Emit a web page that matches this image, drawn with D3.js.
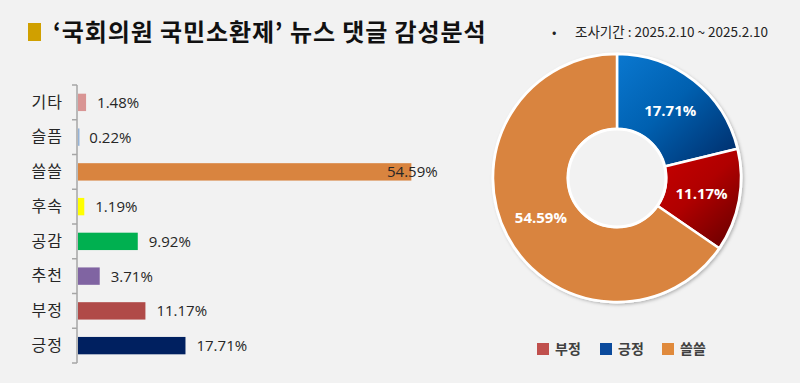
<!DOCTYPE html>
<html><head><meta charset="utf-8">
<script src="https://cdn.jsdelivr.net/npm/d3@7"></script>
<style>
html,body{margin:0;padding:0;background:#f2f2f2;}
svg{display:block;font-family:"Noto Sans CJK KR","Noto Sans",sans-serif;}
</style></head>
<body>
<svg id="c" width="800" height="383"></svg>
<script>
const titleText = "‘국회의원 국민소환제’ 뉴스 댓글 감성분석";
const periodText = "조사기간 : 2025.2.10 ~ 2025.2.10";
const barCategories = ["기타","슬픔","쓸쓸","후속","공감","추천","부정","긍정"];
const barValues = [1.48,0.22,54.59,1.19,9.92,3.71,11.17,17.71];
const barColors = ["#d99594","#95b3d7","#d9843f","#ffff00","#00b050","#8064a2","#b04a48","#002060"];
const pieCategories = ["긍정","부정","쓸쓸"];
const pieValues = [17.71,11.17,54.59];
const legendOrder = ["부정","긍정","쓸쓸"];
const legendColors = {"부정":"#c0504d","긍정":"#0b4a9c","쓸쓸":"#e08a3c"};

const svg = d3.select("#c");
svg.append("rect").attr("width",800).attr("height",383).attr("fill","#f2f2f2");

// Title
svg.append("rect").attr("x",28).attr("y",23).attr("width",13).attr("height",18).attr("fill","#d0a000");
svg.append("text").attr("x",53).attr("y",41).attr("font-size",24).attr("font-weight",700)
  .attr("letter-spacing",0.9).attr("fill","#111").text(titleText);
svg.append("text").attr("x",552).attr("y",37).attr("font-size",13).attr("fill","#222").text("•");
svg.append("text").attr("x",575).attr("y",37).attr("font-size",13.5).attr("fill","#222").text(periodText);

// Bar chart
const x = d3.scaleLinear().domain([0,60]).range([77,77+367.5]);
const y = d3.scaleBand().domain(barCategories).range([85,363]).paddingInner(0.5).paddingOuter(0.25);
const bandStep = (363-85)/barCategories.length;
const g = svg.append("g");
const ax = d3.axisLeft(y).tickSize(0).tickPadding(14);
const axG = g.append("g").attr("transform","translate(77,0)").call(ax);
axG.select(".domain").remove();
axG.selectAll("text").attr("font-size",16).attr("letter-spacing",1).attr("fill","#262626")
  .attr("font-family","'Noto Sans CJK KR',sans-serif");
// axis line and boundary ticks
g.append("line").attr("x1",77).attr("x2",77).attr("y1",85).attr("y2",363).attr("stroke","#a6a6a6").attr("stroke-width",1.5);
const boundaries = d3.range(barCategories.length+1).map(i=>85+i*bandStep);
g.selectAll(".tk").data(boundaries).enter().append("line")
  .attr("x1",72).attr("x2",77).attr("y1",d=>d).attr("y2",d=>d).attr("stroke","#a6a6a6").attr("stroke-width",1.5);
g.selectAll(".bar").data(barCategories).enter().append("rect")
  .attr("x",x(0)+1).attr("y",d=>y(d)).attr("height",y.bandwidth())
  .attr("width",(d,i)=>Math.max(x(barValues[i])-x(0)-1,1.5))
  .attr("fill",(d,i)=>barColors[i]);
g.selectAll(".lbl").data(barCategories).enter().append("text")
  .attr("x",(d,i)=>Math.min(x(barValues[i])+11,387))
  .attr("y",d=>y(d)+y.bandwidth()/2).attr("dy","0.36em")
  .attr("font-size",15).attr("fill","#262626").attr("font-family","'Open Sans','Noto Sans',sans-serif")
  .text((d,i)=>barValues[i].toFixed(2)+"%");

// Donut
const defs = svg.append("defs");
const gb = defs.append("linearGradient").attr("id","gBlue").attr("x1","0").attr("y1","0").attr("x2","1").attr("y2","1");
gb.append("stop").attr("offset","0").attr("stop-color","#0a78d0");
gb.append("stop").attr("offset","0.45").attr("stop-color","#0060b0");
gb.append("stop").attr("offset","1").attr("stop-color","#002a66");
const gr = defs.append("linearGradient").attr("id","gRed").attr("x1","0").attr("y1","0").attr("x2","0.8").attr("y2","1");
gr.append("stop").attr("offset","0").attr("stop-color","#c80000");
gr.append("stop").attr("offset","0.5").attr("stop-color","#b00000");
gr.append("stop").attr("offset","1").attr("stop-color","#6e0000");
const flt = defs.append("filter").attr("id","sh").attr("x","-10%").attr("y","-10%").attr("width","120%").attr("height","120%");
flt.append("feDropShadow").attr("dx",1.5).attr("dy",1.5).attr("stdDeviation",1.5).attr("flood-color","#000").attr("flood-opacity",0.25);
const pieFill = {"긍정":"url(#gBlue)","부정":"url(#gRed)","쓸쓸":"#d9843f"};
const cx=617, cy=178, R=124, r=49;
const pie = d3.pie().sort(null).value(d=>d.v);
const arcs = pie(pieCategories.map((c,i)=>({c, v:pieValues[i]})));
const arc = d3.arc().innerRadius(r).outerRadius(R);
const labelArc = d3.arc().innerRadius(86).outerRadius(86);
const pg = svg.append("g").attr("transform",`translate(${cx},${cy})`);
pg.append("circle").attr("r",R+1.5).attr("fill","#fff").attr("filter","url(#sh)");
pg.selectAll(".sl").data(arcs).enter().append("path").attr("d",arc)
  .attr("fill",d=>pieFill[d.data.c]).attr("stroke","#fff").attr("stroke-width",2.5).attr("stroke-linejoin","round");
pg.append("circle").attr("r",r).attr("fill","#f2f2f2").attr("stroke","#fff").attr("stroke-width",3);
pg.selectAll(".pl").data(arcs).enter().append("text")
  .attr("transform",d=>`translate(${labelArc.centroid(d)})`)
  .attr("text-anchor","middle").attr("dy","0.36em")
  .attr("font-size",15).attr("font-weight",700).attr("fill","#fff")
  .attr("font-family","'Open Sans','Noto Sans',sans-serif")
  .text(d=>d.data.v.toFixed(2)+"%");

// Legend
const lx = [537,600,662];
const lg = svg.append("g");
legendOrder.forEach((c,i)=>{
  lg.append("rect").attr("x",lx[i]).attr("y",343).attr("width",12).attr("height",12).attr("fill",legendColors[c]);
  lg.append("text").attr("x",lx[i]+18).attr("y",354).attr("font-size",14).attr("font-weight",700)
    .attr("fill","#404040").text(c);
});
</script>
</body></html>
